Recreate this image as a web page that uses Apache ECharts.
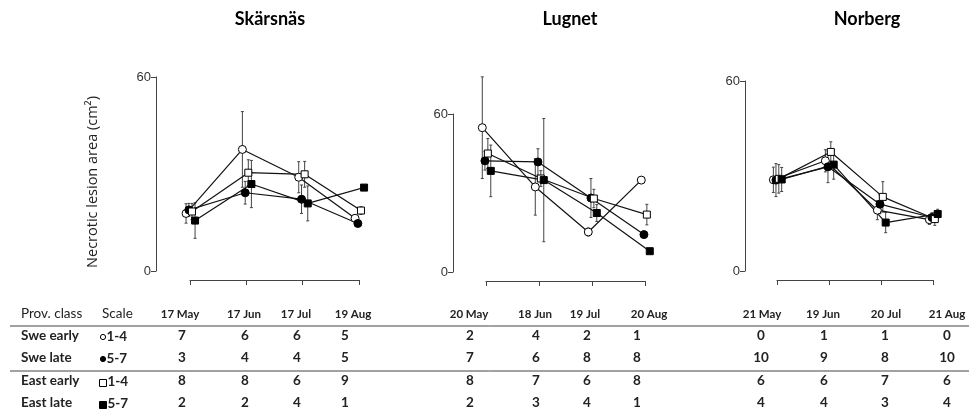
<!DOCTYPE html>
<html>
<head>
<meta charset="utf-8">
<script src="https://cdn.jsdelivr.net/npm/echarts@6/dist/echarts.min.js"></script>
<style>html,body{margin:0;padding:0;background:#fff}#c{width:969px;height:414px}</style>
</head>
<body>
<div id="c"></div>
<script>
// ---------- DATA ----------
const sites = ['Skärsnäs', 'Lugnet', 'Norberg'];
const sampleDates = [
  ['17 May', '17 Jun', '17 Jul', '19 Aug'],
  ['20 May', '18 Jun', '19 Jul', '20 Aug'],
  ['21 May', '19 Jun', '20 Jul', '21 Aug']
];
const yTicks = [0, 60];
// mean necrotic lesion area (cm2) per site x date
const sweEarlyMean = [[17.8, 37.6, 29.0, 16.3], [54.8, 32.3, 15.2, 34.9], [28.8, 34.8, 19.2, 16.2]];
const sweEarlyErr  = [[3.0, 11.7, 4.8, 1.0], [19.3, 10.7, 1.5, 0], [4.0, 3.5, 3.0, 1.5]];
const sweLateMean  = [[18.9, 24.2, 22.2, 14.7], [42.2, 41.8, 28.1, 14.2], [28.7, 32.9, 21.1, 16.9]];
const sweLateErr   = [[2.0, 3.5, 4.4, 0.8], [3.5, 5.0, 7.4, 0.8], [5.2, 5.0, 3.0, 1.5]];
const eastEarlyMean = [[18.4, 30.4, 29.9, 18.7], [45.0, 35.5, 27.9, 21.8], [29.1, 37.6, 23.4, 16.4]];
const eastEarlyErr  = [[2.5, 4.0, 4.0, 1.2], [5.7, 3.0, 3.5, 3.9], [4.5, 3.2, 4.8, 2.0]];
const eastLateMean = [[15.6, 26.9, 20.9, 25.8], [38.4, 34.9, 22.4, 7.9], [28.9, 33.6, 15.3, 18.0]];
const eastLateErr  = [[5.5, 7.3, 5.4, 0.5], [9.8, 23.4, 3.2, 0.5], [3.8, 4.6, 3.2, 1.5]];
// sample sizes (table)
const provClasses = ['Swe early', 'Swe late', 'East early', 'East late'];
const scaleLabels = ['1-4', '5-7', '1-4', '5-7'];
const nSweEarly  = [[7, 6, 6, 5], [2, 4, 2, 1], [0, 1, 1, 0]];
const nSweLate   = [[3, 4, 4, 5], [7, 6, 8, 8], [10, 9, 8, 10]];
const nEastEarly = [[8, 8, 6, 9], [8, 7, 6, 8], [6, 6, 7, 6]];
const nEastLate  = [[2, 2, 4, 1], [2, 3, 4, 1], [4, 4, 3, 4]];

// ---------- LAYOUT / STYLE ----------
const grids = [
  { left: 190, top: 77, width: 169, height: 194, yOff: 34 },
  { left: 486, top: 114, width: 159, height: 158, yOff: 33 },
  { left: 777, top: 81, width: 156, height: 190, yOff: 32 }
];
const titleX = [270, 570, 867];
const headerX = [[180, 244, 296, 353], [469, 535, 585, 649], [762, 823, 886, 947]];
const numX = [[182, 245, 297, 345], [470, 536, 587, 637], [761, 824, 885, 947]];
const rowY = [336, 358, 381, 403];
const headerY = 314;
const dodge = [-0.07, -0.02, 0.035, 0.09];
const groups = [
  { mean: sweEarlyMean, err: sweEarlyErr, symbol: 'circle', size: 8, fill: '#fff' },
  { mean: sweLateMean, err: sweLateErr, symbol: 'circle', size: 8, fill: '#000' },
  { mean: eastEarlyMean, err: eastEarlyErr, symbol: 'rect', size: 7, fill: '#fff' },
  { mean: eastLateMean, err: eastLateErr, symbol: 'rect', size: 7, fill: '#000' }
];
const counts = [nSweEarly, nSweLate, nEastEarly, nEastLate];

const chart = echarts.init(document.getElementById('c'), null, { renderer: 'canvas' });

const option = {
  animation: false,
  backgroundColor: '#fff',
  grid: grids.map(g => ({ left: g.left, top: g.top, width: g.width, height: g.height, containLabel: false })),
  xAxis: grids.map((g, i) => ({
    type: 'value', gridIndex: i, min: 0, max: 3, interval: 1, offset: 9,
    axisLine: { show: true, onZero: false, lineStyle: { color: '#444', width: 1 } },
    axisTick: { show: true, length: 5, lineStyle: { color: '#444', width: 1 } },
    axisLabel: { show: false }, splitLine: { show: false }
  })),
  yAxis: grids.map((g, i) => ({
    type: 'value', gridIndex: i, min: yTicks[0], max: yTicks[1], interval: yTicks[1] - yTicks[0], offset: g.yOff,
    axisLine: { show: true, onZero: false, lineStyle: { color: '#444', width: 1 } },
    axisTick: { show: true, length: 5, lineStyle: { color: '#444', width: 1 } },
    axisLabel: { show: true, fontFamily: 'Liberation Sans', fontSize: 13, color: '#333', margin: 5 },
    splitLine: { show: false }
  })),
  series: [],
  graphic: []
};

// error bars + lines
for (let s = 0; s < 3; s++) {
  groups.forEach((gr, k) => {
    const errData = [];
    gr.mean[s].forEach((m, t) => {
      const e = gr.err[s][t];
      if (e > 0) errData.push([t + dodge[k], m - e, m + e]);
    });
    option.series.push({
      type: 'custom', xAxisIndex: s, yAxisIndex: s, clip: false, z: 1,
      data: errData,
      encode: { x: 0, y: [1, 2] },
      renderItem: function (params, api) {
        const x = api.value(0);
        const lo = api.coord([x, api.value(1)]);
        const hi = api.coord([x, api.value(2)]);
        const cap = 1.5;
        const st = { stroke: '#444', lineWidth: 1 };
        return {
          type: 'group', children: [
            { type: 'line', shape: { x1: lo[0], y1: lo[1], x2: hi[0], y2: hi[1] }, style: st },
            { type: 'line', shape: { x1: lo[0] - cap, y1: lo[1], x2: lo[0] + cap, y2: lo[1] }, style: st },
            { type: 'line', shape: { x1: hi[0] - cap, y1: hi[1], x2: hi[0] + cap, y2: hi[1] }, style: st }
          ]
        };
      }
    });
  });
  groups.forEach((gr, k) => {
    option.series.push({
      type: 'line', xAxisIndex: s, yAxisIndex: s, clip: false, z: 3,
      data: gr.mean[s].map((m, t) => [t + dodge[k], m]),
      symbol: gr.symbol, symbolSize: gr.size, showSymbol: true,
      lineStyle: { color: '#111', width: 1.2 },
      itemStyle: { color: gr.fill, borderColor: '#000', borderWidth: 1 },
      emphasis: { disabled: true }, silent: true
    });
  });
}

// titles
sites.forEach((name, s) => {
  option.graphic.push({
    type: 'text', style: { text: name, x: titleX[s], y: 19, textAlign: 'center', textVerticalAlign: 'middle',
      font: 'bold 18px Lato', fill: '#000' }
  });
});
// y axis name
option.graphic.push({
  type: 'text', x: 93, y: 182, rotation: Math.PI / 2,
  style: { text: 'Necrotic lesion area (cm²)', x: 0, y: 0, textAlign: 'center', textVerticalAlign: 'middle',
    font: '14.5px "Open Sans"', fill: '#222' }
});

// table
const tFont = '13.5px Lato';
option.graphic.push({ type: 'text', style: { text: 'Prov. class', x: 21, y: headerY, textVerticalAlign: 'middle', font: tFont, fill: '#222' } });
option.graphic.push({ type: 'text', style: { text: 'Scale', x: 102, y: headerY, textVerticalAlign: 'middle', font: tFont, fill: '#222' } });
option.graphic.push({ type: 'line', shape: { x1: 10, y1: 326, x2: 969, y2: 326 }, style: { stroke: '#444', lineWidth: 1 } });
option.graphic.push({ type: 'line', shape: { x1: 10, y1: 371, x2: 969, y2: 371 }, style: { stroke: '#444', lineWidth: 1 } });
sampleDates.forEach((ds, s) => {
  ds.forEach((d, t) => {
    option.graphic.push({ type: 'text', style: { text: d, x: headerX[s][t], y: headerY, textAlign: 'center', textVerticalAlign: 'middle', font: 'bold 11.5px Lato', fill: '#222' } });
  });
});
provClasses.forEach((pc, r) => {
  option.graphic.push({ type: 'text', style: { text: pc, x: 21, y: rowY[r], textVerticalAlign: 'middle', font: 'bold 13.5px Lato', fill: '#222' } });
  const gr = groups[r];
  const sy = gr.symbol === 'rect' ? rowY[r] + 2 : rowY[r] + 1;
  if (gr.symbol === 'circle') {
    option.graphic.push({ type: 'circle', shape: { cx: 103, cy: sy, r: 2.6 }, style: { fill: gr.fill, stroke: '#000', lineWidth: 1 } });
  } else {
    option.graphic.push({ type: 'rect', shape: { x: 99.5, y: sy - 3.5, width: 7, height: 7 }, style: { fill: gr.fill, stroke: '#000', lineWidth: 1 } });
  }
  option.graphic.push({ type: 'text', style: { text: scaleLabels[r], x: gr.symbol === 'rect' ? 107.5 : 106.5, y: rowY[r] + 1, textVerticalAlign: 'middle', font: 'bold 13.5px Lato', fill: '#222' } });
  for (let s = 0; s < 3; s++) {
    counts[r][s].forEach((n, t) => {
      option.graphic.push({ type: 'text', style: { text: String(n), x: numX[s][t], y: rowY[r], textAlign: 'center', textVerticalAlign: 'middle', font: 'bold 13.5px Lato', fill: '#222' } });
    });
  }
});

chart.setOption(option);
</script>
</body>
</html>
